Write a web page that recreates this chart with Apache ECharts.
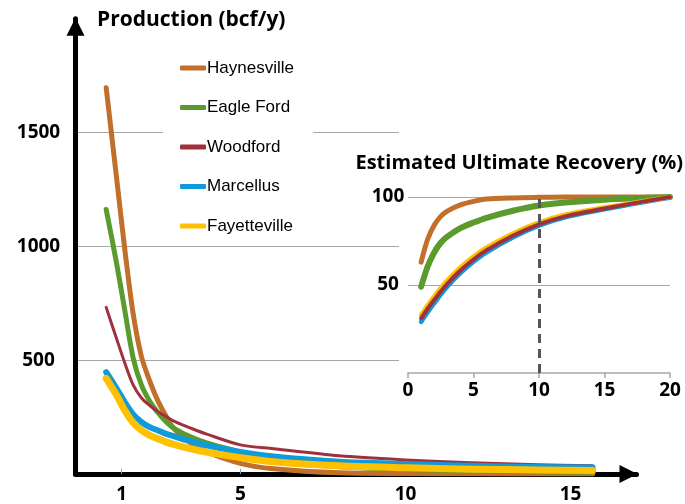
<!DOCTYPE html>
<html><head><meta charset="utf-8">
<script src="https://cdn.jsdelivr.net/npm/echarts@6/dist/echarts.min.js"></script>
<style>html,body{margin:0;padding:0;background:#fff}#c{width:685px;height:504px}</style>
</head><body><div id="c"></div>
<script>
// ---- data ----
const seriesNames = ['Haynesville', 'Eagle Ford', 'Woodford', 'Marcellus', 'Fayetteville'];
const seriesColors = ['#C0702A', '#5B9B2E', '#A0303C', '#0E9ADB', '#FFC000'];

// Main chart: production (bcf/y) by year
const prodYears        = [0.93, 1.25, 1.5, 1.75, 2, 2.25, 2.5, 2.75, 3, 3.5, 4, 5, 6, 8, 10, 12, 14, 15.67];
const prodHaynesville  = [1697, 1294, 979, 701, 515, 408, 320, 252, 196, 135, 96, 47, 23, 5, 2, 1, 0, 0];
const prodEagleFord    = [1162, 921, 713, 508, 390, 319, 269, 229, 199, 162, 136, 96, 55, 32, 20, 14, 10, 8];
const prodWoodford     = [732, 592, 485, 390, 334, 301, 274, 252, 231, 201, 174, 128, 111, 80, 62, 49, 41, 36];
const prodMarcellus    = [447, 374, 314, 262, 228, 206, 191, 176, 165, 143, 125, 97, 77, 54, 44, 36, 31, 29];
const prodFayetteville = [420, 345, 278, 225, 192, 170, 155, 140, 129, 110, 95, 72, 54, 36, 27, 21, 18, 15];

// Inset: estimated ultimate recovery (%) by year
const eurYears        = [1, 1.5, 2, 2.5, 3, 4, 5, 6, 8, 10, 12, 15, 20];
const eurHaynesville  = [63, 76, 84, 89, 92, 95.5, 97.5, 98.8, 99.5, 99.8, 100, 100, 100];
const eurEagleFord    = [49, 60.5, 68.5, 74, 77.5, 82.3, 85.5, 88.2, 92.2, 95.2, 96.9, 98.5, 100];
const eurWoodford     = [31, 36.5, 41.5, 46.3, 50.7, 58.2, 64.5, 69.8, 78, 84.5, 89, 93.5, 100];
const eurMarcellus    = [29, 34.5, 39.5, 44.5, 49, 56.7, 63.2, 68.6, 77, 83.7, 88.4, 93, 99.7];
const eurFayetteville = [33, 38.5, 43.5, 48.3, 52.7, 60, 66.2, 71.3, 79.3, 85.6, 90, 94, 100];
const eurMarkerYear = 10;

// Tick labels
const mainXTickValues = [1.4, 5, 10, 15];
const mainXTickLabels = ['1', '5', '10', '15'];
const mainYTickValues = [500, 1000, 1500];
const eurXTickValues = [0, 5, 10, 15, 20];
const eurYTickValues = [50, 100];

// ---- chart ----
const prodData = [prodHaynesville, prodEagleFord, prodWoodford, prodMarcellus, prodFayetteville];
const eurData = [eurHaynesville, eurEagleFord, eurWoodford, eurMarcellus, eurFayetteville];
const mainWidths = [5, 5, 3, 6, 7];
const eurWidths = [5, 6, 4, 4.5, 4.5];
const eurOrder = [0, 1, 3, 4, 2];

const boldLabel = { fontSize: 19, fontWeight: 'bold', fontFamily: 'Open Sans', color: '#000' };

const series = [];
prodData.forEach((vals, i) => {
  series.push({
    name: seriesNames[i], type: 'line', xAxisIndex: 0, yAxisIndex: 0,
    data: prodYears.map((x, k) => [x, vals[k]]),
    smooth: 0.3, showSymbol: false, z: 2,
    itemStyle: { color: seriesColors[i] },
    lineStyle: { color: seriesColors[i], width: mainWidths[i], cap: 'round', join: 'round' }
  });
});
eurOrder.forEach((i) => {
  const s = {
    name: seriesNames[i], type: 'line', xAxisIndex: 1, yAxisIndex: 1,
    data: eurYears.map((x, k) => [x, eurData[i][k]]),
    smooth: 0.3, showSymbol: false, clip: false, z: 4,
    itemStyle: { color: seriesColors[i] },
    lineStyle: { color: seriesColors[i], width: eurWidths[i], cap: 'round', join: 'round' }
  };
  if (i === 0) {
    s.markLine = {
      silent: true, symbol: ['none', 'none'], label: { show: false },
      lineStyle: { color: '#555', width: 3, type: [9, 6] },
      data: [{ xAxis: eurMarkerYear }]
    };
  }
  series.push(s);
});

const option = {
  animation: false,
  backgroundColor: '#fff',
  title: [
    { text: 'Production (bcf/y)', left: 97, top: 8, padding: 0,
      textStyle: { fontSize: 21, fontWeight: 'bold', fontFamily: 'Open Sans', color: '#000', lineHeight: 24 } },
    { text: 'Estimated Ultimate Recovery (%)', right: 2, top: 151, padding: 0,
      textStyle: { fontSize: 20, fontWeight: 'bold', fontFamily: 'Open Sans', color: '#000', lineHeight: 24 } }
  ],
  legend: {
    orient: 'vertical', left: 163, top: 48, padding: [10, 19, 6, 17],
    backgroundColor: '#fff', itemGap: 19.5, itemWidth: 26, itemHeight: 5,
    icon: 'roundRect', data: seriesNames,
    textStyle: { fontSize: 17, fontFamily: 'Liberation Sans', color: '#000', lineHeight: 20, padding: [0, 0, 0, -4] }
  },
  graphic: [
    { type: 'rect', z: 1, silent: true, shape: { x: 399, y: 118, width: 286, height: 285 }, style: { fill: '#fff' } }
  ],
  grid: [
    { left: 75.5, right: 48.5, top: 18.7, bottom: 28.5 },
    { left: 408, right: 15, top: 197, bottom: 131 }
  ],
  xAxis: [
    { type: 'value', gridIndex: 0, min: 0, max: 17, z: 0,
      axisLine: { show: true, lineStyle: { color: '#000', width: 5 }, symbol: ['none', 'triangle'], symbolSize: [18, 18], symbolOffset: [0, -8] },
      axisTick: { show: true, customValues: mainXTickValues, inside: true, length: 5, lineStyle: { color: '#999', width: 1 } },
      axisLabel: Object.assign({ customValues: mainXTickValues, margin: 11,
        formatter: (v) => { const k = mainXTickValues.indexOf(v); return k >= 0 ? mainXTickLabels[k] : ''; } }, boldLabel),
      splitLine: { show: false } },
    { type: 'value', gridIndex: 1, min: 0, max: 20, interval: 5, z: 3,
      axisLine: { show: true, lineStyle: { color: '#A6A6A6', width: 1.5 } },
      axisTick: { show: true, customValues: eurXTickValues, length: 5, lineStyle: { color: '#A6A6A6', width: 1.5 } },
      axisLabel: Object.assign({ customValues: eurXTickValues, margin: 8, formatter: (v) => String(v) }, boldLabel),
      splitLine: { show: false } }
  ],
  yAxis: [
    { type: 'value', gridIndex: 0, min: 0, max: 2000, interval: 500, z: 0,
      axisLine: { show: true, lineStyle: { color: '#000', width: 5 }, symbol: ['none', 'triangle'], symbolSize: [18, 18], symbolOffset: [0, -8] },
      axisTick: { show: false },
      axisLabel: Object.assign({ customValues: mainYTickValues, align: 'center', margin: 37, formatter: (v) => String(v) }, boldLabel),
      splitLine: { show: true, showMinLine: false, showMaxLine: false, lineStyle: { color: '#A6A6A6', width: 1 } } },
    { type: 'value', gridIndex: 1, min: 0, max: 100, interval: 50, z: 3,
      axisLine: { show: false }, axisTick: { show: false },
      axisLabel: Object.assign({ customValues: eurYTickValues, align: 'center', margin: 20, formatter: (v) => String(v) }, boldLabel),
      splitLine: { show: true, showMinLine: false, showMaxLine: true, lineStyle: { color: '#A6A6A6', width: 1 } } }
  ],
  series: series
};

const chart = echarts.init(document.getElementById('c'), null, { renderer: 'canvas' });
chart.setOption(option);
</script>
</body></html>
